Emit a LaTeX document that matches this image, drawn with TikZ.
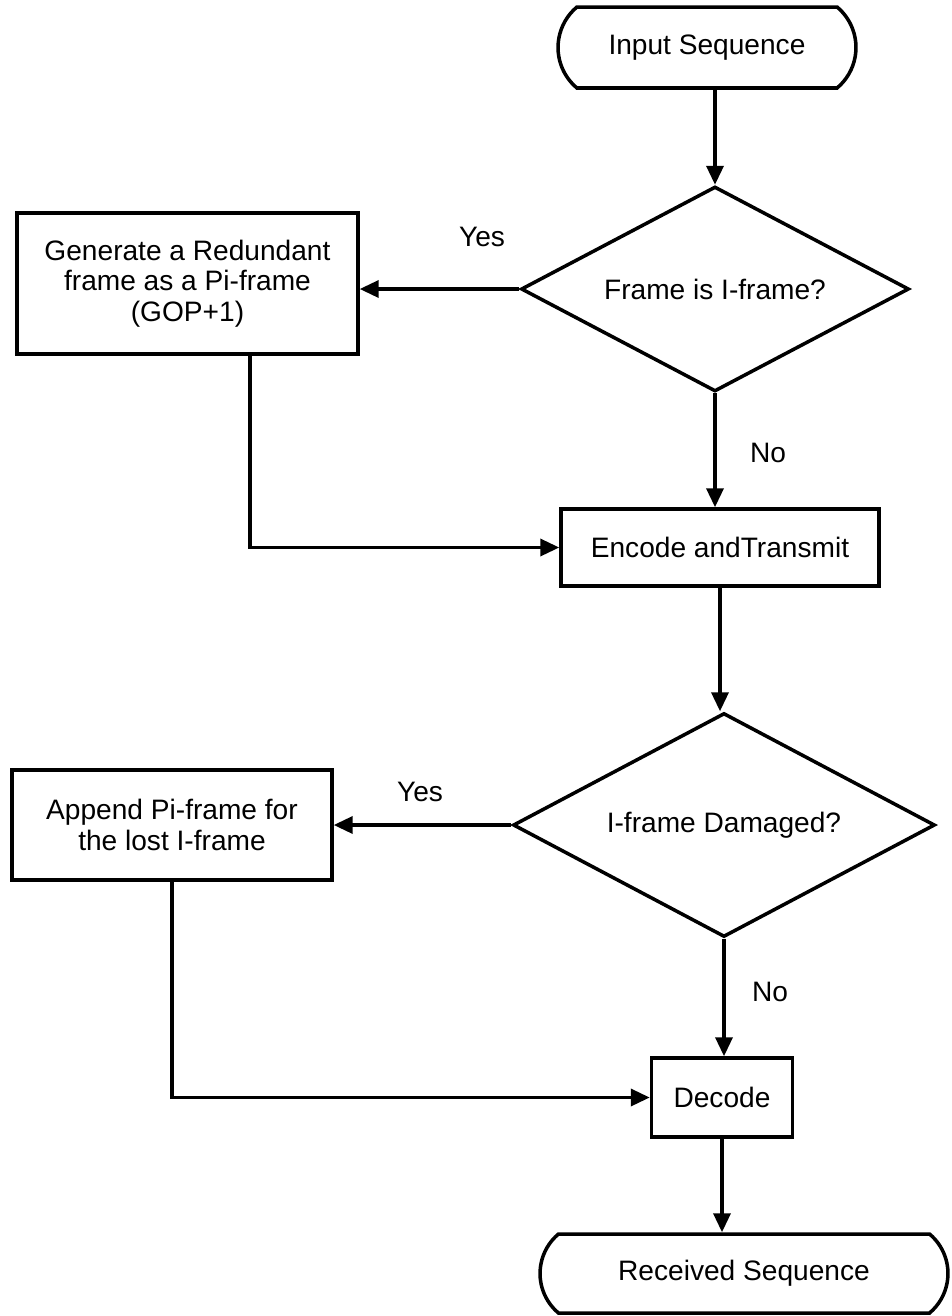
\documentclass[tikz,border=0pt]{standalone}
\usepackage{fontspec}
\setmainfont{Liberation Sans}
\usetikzlibrary{shapes.geometric,shapes.misc,arrows.meta}
\begin{document}
\begin{tikzpicture}[x=0.02cm,y=-0.02cm,
  line width=2pt,
  every node/.style={font=\fontsize{16}{17.5}\selectfont, align=center},
  term/.style={draw, rounded rectangle, rounded rectangle arc length=100, inner sep=0pt},
  procbox/.style={draw, rectangle, inner sep=2pt},
  decis/.style={draw, diamond, inner sep=0pt},
  arr/.style={-{Triangle[length=0.38cm,width=0.34cm]}},
  lbl/.style={inner sep=0pt}
]
\useasboundingbox (0,0) rectangle (952,1316);

\node[term, minimum width=5.96cm, minimum height=1.62cm] (in) at (707,47.5) {Input Sequence};
\node[decis, minimum width=7.76cm, minimum height=4.1cm, aspect=1.89] (d1) at (715,289) {Frame is I-frame?};
\node[procbox, minimum width=6.82cm, minimum height=2.82cm] (b1) at (187.5,283.5) {Generate a Redundant\\frame as a Pi-frame\\(GOP+1)};
\node[procbox, minimum width=6.36cm, minimum height=1.54cm] (enc) at (720,547.5) {Encode andTransmit};
\node[decis, minimum width=8.44cm, minimum height=4.48cm, aspect=1.88] (d2) at (724,825) {I-frame Damaged?};
\node[procbox, minimum width=6.4cm, minimum height=2.2cm] (b2) at (172,825) {Append Pi-frame for\\the lost I-frame};
\node[procbox, minimum width=2.82cm, minimum height=1.58cm] (dec) at (722,1097.5) {Decode};
\node[term, minimum width=8.16cm, minimum height=1.58cm] (rec) at (744,1273.5) {Received Sequence};

\node[lbl] (y1) at (482,237) {Yes};
\node[lbl] (n1) at (768,453) {No};
\node[lbl] (y2) at (420,792) {Yes};
\node[lbl] (n2) at (770,992) {No};

\draw[arr] (in.south -| d1.north) -- (d1.north);
\draw[arr] (d1.west) -- (d1.west -| b1.east);
\draw[arr] (d1.south) -- (d1.south |- enc.north);
\draw[arr] ([xshift=1.25cm]b1.south) |- (enc.west);
\draw[arr] (enc.south) -- (enc.south |- d2.north);
\draw[arr] (d2.west) -- (d2.west -| b2.east);
\draw[arr] (d2.south) -- (d2.south |- dec.north);
\draw[arr] (b2.south) |- (dec.west);
\draw[arr] (dec.south) -- (dec.south |- rec.north);
\end{tikzpicture}
\end{document}
